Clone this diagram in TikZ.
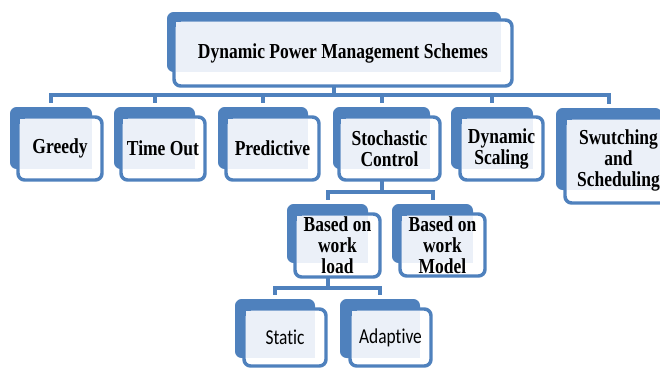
\documentclass[tikz,border=0pt]{standalone}
\usepackage{fontspec}
\usetikzlibrary{fit,calc}
\newfontfamily\hdfont[FakeStretch=0.82]{Liberation Serif}
\newfontfamily\sbfont[FakeStretch=0.82,Ligatures=NoCommon]{Carlito}
\definecolor{dpblue}{HTML}{4F81BD}
\definecolor{dplight}{HTML}{EBF0F8}
\tikzset{
  backbox/.style={inner sep=0pt, outer sep=0pt, fill=dpblue, rounded corners=5pt},
  frontbox/.style={inner sep=0pt, outer sep=0pt, fill=white, draw=dpblue, line width=2.6pt, rounded corners=5pt},
  lightfill/.style={fill=dplight},
  serifbold/.style={font=\hdfont\bfseries\fontsize{16}{15.75}\selectfont, align=center, inner sep=0pt},
  sanslab/.style={font=\sbfont\fontsize{15.9}{17}\selectfont, inner sep=0pt},
  conn/.style={draw=dpblue, line width=3pt},
}
\newcommand\dpbox[7]{%
  \path (#2) coordinate (#1-bnw) (#3) coordinate (#1-bse) (#4) coordinate (#1-fnw) (#5) coordinate (#1-fse);
  \node[backbox, fit=(#1-bnw)(#1-bse)] (#1-back) {};
  \node[frontbox, fit=(#1-fnw)(#1-fse)] (#1) {};
  \fill[lightfill] ($(#1-fnw)+(1.8,1.8)$) rectangle (#1-bse);
  \node[#6] (#1-text) at (#1.center) {#7};
}
\begin{document}
\begin{tikzpicture}[x=0.75pt, y=-0.75pt]
\useasboundingbox (0,0) rectangle (660,371);
\clip (0,0) rectangle (660,371);

\dpbox{top}{167,12}{501,72}{174,20}{512,86}{serifbold}{Dynamic Power Management Schemes}
\dpbox{greedy}{10,107}{92,169}{18,117}{102,180}{serifbold}{Greedy}
\dpbox{timeout}{114,107}{195,169}{121,117}{205,180}{serifbold}{Time Out}
\dpbox{pred}{218,107}{308,169}{226,117}{319,180}{serifbold}{Predictive}
\dpbox{stoch}{333,107}{430,169}{339,117}{440,180}{serifbold}{Stochastic\\Control}
\dpbox{dyn}{451,107}{533,169}{460,117}{543,180}{serifbold}{Dynamic\\Scaling}
\dpbox{swut}{556,108}{662,190}{565,118}{672,203}{serifbold}{Swutching\\and\\Scheduling}
\dpbox{wload}{287,204}{368,263}{295,214}{380,277}{serifbold}{Based on\\work\\load}
\dpbox{wmodel}{392,204}{473,263}{400,214}{485,276}{serifbold}{Based on\\work\\Model}
\dpbox{static}{235,299}{315,358}{244,309}{326,366}{sanslab}{Static}
\dpbox{adapt}{340,299}{420,358}{350,309}{431,366}{sanslab}{Adaptive}

\foreach \c in {greedy,timeout,pred,stoch,dyn,swut}
  \draw[conn] (top-back |- top.south) -- ++(0,9) -| ([yshift=3pt]\c-back.north);
\foreach \c in {wload,wmodel}
  \draw[conn] (stoch-back |- stoch.south) -- ++(0,12) -| ([yshift=3pt]\c-back.north);
\foreach \c in {static,adapt}
  \draw[conn] (wload-back |- wload.south) -- ++(0,11) -| ([yshift=3pt]\c-back.north);
\end{tikzpicture}
\end{document}
